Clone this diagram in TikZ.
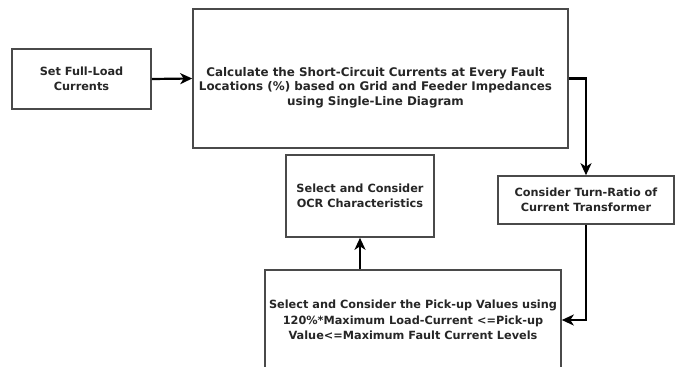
\documentclass[tikz,border=0pt]{standalone}
\usepackage{fontspec}
\setmainfont{DejaVu Sans}
\usetikzlibrary{arrows.meta}
\definecolor{boxline}{HTML}{4A4A4A}
\definecolor{ink}{HTML}{262626}
\tikzset{
  boxfont/.style={font=\fontsize{11.3}{15.5}\selectfont\bfseries, text=ink},
  box/.style={draw=boxline, line width=1.6pt, fill=white, align=center,
    boxfont, inner sep=0pt},
  flow/.style={draw=black, line width=2.2pt,
    -{Stealth[length=12pt,width=11pt,inset=3.5pt]}},
}
\begin{document}
\begin{tikzpicture}[x=1pt,y=-1pt]
\useasboundingbox (0,0) rectangle (681,367);
\begin{scope}
\clip (0,0) rectangle (681,367);
% process boxes
\node[box, minimum width=139, minimum height=60] (A) at (81.5,79)
  {Set Full-Load\\Currents};
\node[box, minimum width=375, minimum height=139,
  label={[boxfont, font=\fontsize{11.9}{14.5}\selectfont\bfseries, align=center, xshift=-5, yshift=-9]center:{Calculate the Short-Circuit Currents at Every Fault\\Locations (\%) based on Grid and Feeder Impedances\\using Single-Line Diagram}}]
  (B) at (380.5,78.5) {};
\node[box, minimum width=176, minimum height=48] (C) at (586,200)
  {Consider Turn-Ratio of\\Current Transformer};
\node[box, minimum width=148, minimum height=82] (D) at (360,196)
  {Select and Consider\\OCR Characteristics};
\node[box, minimum width=296, minimum height=100] (E) at (413,320)
  {Select and Consider the Pick-up Values using\\120\%*Maximum Load-Current <=Pick-up\\Value<=Maximum Fault Current Levels};
% connectors
\draw[flow] (A.east) -- (B.west);
\draw[flow] (B.east) -| (C.north);
\draw[flow] (C.south) |- (E.east);
\draw[flow] (D.south |- E.north) -- (D.south);
\end{scope}
\end{tikzpicture}
\end{document}
